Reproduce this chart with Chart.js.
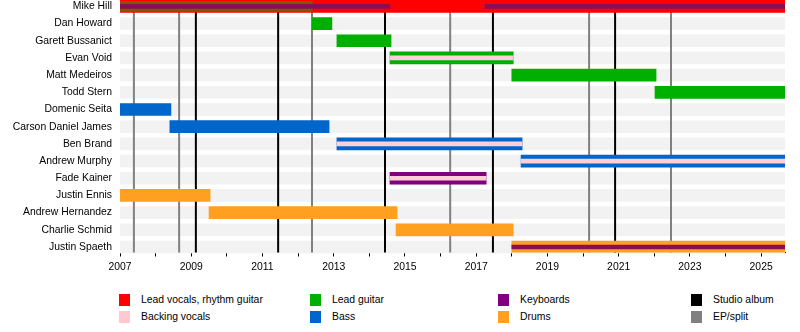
<!DOCTYPE html>
<html>
<head>
<meta charset="utf-8">
<script src="https://cdn.jsdelivr.net/npm/chart.js@4.4.1/dist/chart.umd.min.js"></script>
<style>
  html, body { margin: 0; padding: 0; background: #fff; }
  #wrap { position: relative; width: 800px; height: 332px; overflow: hidden; font-family: "Liberation Sans", Arial, sans-serif; }
  #chart-box { position: absolute; left: 0; top: 0; width: 800px; height: 275px; }
  .leg { position: absolute; font-size: 10.4px; line-height: 12px; color: #000; white-space: nowrap; }
  .leg i { position: absolute; top: 0; width: 11px; height: 12px; }
</style>
</head>
<body>
<div id="wrap">
  <div id="chart-box"><canvas id="timeline"></canvas></div>
  <div id="legend"></div>
</div>
<script>
const members = [
  "Mike Hill", "Dan Howard", "Garett Bussanict", "Evan Void", "Matt Medeiros", "Todd Stern",
  "Domenic Seita", "Carson Daniel James", "Ben Brand", "Andrew Murphy", "Fade Kainer",
  "Justin Ennis", "Andrew Hernandez", "Charlie Schmid", "Justin Spaeth",
];
// what each member is mainly listed for; other roles are drawn as thin inner bars
const mainRole = [
  "vocals", "guitar", "guitar", "guitar", "guitar", "guitar",
  "bass", "bass", "bass", "bass", "keyboards",
  "drums", "drums", "drums", "drums",
];

const START = 2007;
const END = 2025.67;

// [member index, from, to]
const vocals = [[0, START, END]];
const backingVocals = [[3, 2014.58, 2018.04], [8, 2013.09, 2018.29], [9, 2018.26, END], [10, 2014.58, 2017.28]];
const leadGuitar = [
  [0, START, 2012.4], [1, 2012.4, 2012.95], [2, 2013.09, 2014.61],
  [3, 2014.58, 2018.04], [4, 2018.0, 2022.05], [5, 2022.02, END],
];
const bass = [[6, START, 2008.43], [7, 2008.4, 2012.87], [8, 2013.09, 2018.29], [9, 2018.26, END]];
const keyboards = [[0, START, 2014.58], [0, 2017.25, END], [10, 2014.58, 2017.28], [14, 2018.0, END]];
const drums = [[11, START, 2009.53], [12, 2009.5, 2014.78], [13, 2014.75, 2018.04], [14, 2018.0, END]];

const studioAlbums = [2009.13, 2011.44, 2014.44, 2017.47, 2020.9];
const epSplits = [2007.39, 2008.66, 2012.39, 2016.27, 2020.17, 2022.47];

const FONT = { family: "'Liberation Sans', Arial, sans-serif", size: 10.4 };

const roles = [
  { key: "vocals", label: "Lead vocals, rhythm guitar", segs: vocals, color: "#ff0000" },
  { key: "backing", label: "Backing vocals", segs: backingVocals, color: "#ffc8d2", thin: 4, thinColor: "#ffcfd8" },
  { key: "guitar", label: "Lead guitar", segs: leadGuitar, color: "#00b000", thin: 10, thinColor: "rgba(0,176,0,0.5)" },
  { key: "bass", label: "Bass", segs: bass, color: "#0066cc" },
  { key: "keyboards", label: "Keyboards", segs: keyboards, color: "#800080", thin: 4, thinColor: "#870f55" },
  { key: "drums", label: "Drums", segs: drums, color: "#ffa020" },
];

const toPoints = (segs) => segs.map(([m, a, b]) => ({ y: m, x: [a, b] }));

const datasets = [];
for (const r of roles) {
  const main = r.segs.filter(([m]) => mainRole[m] === r.key);
  const extra = r.segs.filter(([m]) => mainRole[m] !== r.key);
  if (main.length) {
    datasets.push({ label: r.label, data: toPoints(main), backgroundColor: r.color, maxBarThickness: 12, order: 3 });
  }
  if (extra.length) {
    datasets.push({
      label: r.label, data: toPoints(extra), backgroundColor: r.thinColor, maxBarThickness: r.thin,
      order: r.key === "guitar" ? 2 : 1,
    });
  }
}

// light row bands and release markers go under the bars
const backdrop = {
  id: "backdrop",
  beforeDatasetsDraw(chart) {
    const { ctx, chartArea: ca, scales: { x, y } } = chart;
    ctx.save();
    ctx.fillStyle = "#f2f2f2";
    members.forEach((_, i) => {
      const cy = y.getPixelForValue(i);
      ctx.fillRect(ca.left, cy - 6.3, ca.right - ca.left, 12.6);
    });
    ctx.lineWidth = 2;
    const rule = (years, color) => {
      ctx.strokeStyle = color;
      for (const v of years) {
        const px = x.getPixelForValue(v);
        ctx.beginPath();
        ctx.moveTo(px, ca.top);
        ctx.lineTo(px, ca.bottom);
        ctx.stroke();
      }
    };
    rule(epSplits, "#808080");
    rule(studioAlbums, "#000000");
    ctx.restore();
  },
};

new Chart(document.getElementById("timeline"), {
  type: "bar",
  data: { datasets },
  plugins: [backdrop],
  options: {
    indexAxis: "y",
    responsive: true,
    maintainAspectRatio: false,
    animation: false,
    events: [],
    layout: { padding: { left: 0, right: 15, top: 0, bottom: 0 } },
    plugins: { legend: { display: false }, tooltip: { enabled: false } },
    datasets: { bar: { grouped: false, barPercentage: 1, categoryPercentage: 1 } },
    scales: {
      x: {
        type: "linear",
        min: START,
        max: END,
        grid: { drawOnChartArea: false, drawTicks: true, tickLength: 4, color: "#000" },
        border: { color: "#000", width: 1 },
        ticks: {
          stepSize: 1,
          autoSkip: false,
          includeBounds: false,
          maxTicksLimit: 100,
          maxRotation: 0,
          padding: 4,
          color: "#000",
          font: FONT,
          callback: (v) => (v % 2 === 1 ? String(v) : ""),
        },
        afterFit: (s) => { s.height = 22.5; s.paddingLeft = 0; s.paddingRight = 0; },
      },
      y: {
        type: "linear",
        reverse: true,
        offset: false,
        min: -0.37,
        max: 14.32,
        grid: { display: false, drawTicks: false },
        border: { display: false },
        ticks: {
          stepSize: 1,
          autoSkip: false,
          includeBounds: false,
          maxTicksLimit: 100,
          padding: 8,
          color: "#000",
          font: FONT,
          callback: (v) => members[v] ?? "",
        },
        afterFit: (s) => { s.width = 120; s.paddingTop = 0; s.paddingBottom = 0; },
      },
    },
  },
});

// legend: four columns, two rows
const legendItems = [
  ["Lead vocals, rhythm guitar", "#ff0000"], ["Backing vocals", "#ffc8d2"],
  ["Lead guitar", "#00b000"], ["Bass", "#0066cc"],
  ["Keyboards", "#800080"], ["Drums", "#ffa020"],
  ["Studio album", "#000000"], ["EP/split", "#808080"],
];
const colX = [119, 310, 498, 691];
const rowY = [294, 311];
document.getElementById("legend").innerHTML = legendItems
  .map(([label, color], i) => {
    const c = Math.floor(i / 2), r = i % 2;
    return `<div class="leg" style="left:${colX[c] + 22}px;top:${rowY[r]}px">` +
      `<i style="left:-22px;background:${color}"></i>${label}</div>`;
  })
  .join("");
</script>
</body>
</html>
